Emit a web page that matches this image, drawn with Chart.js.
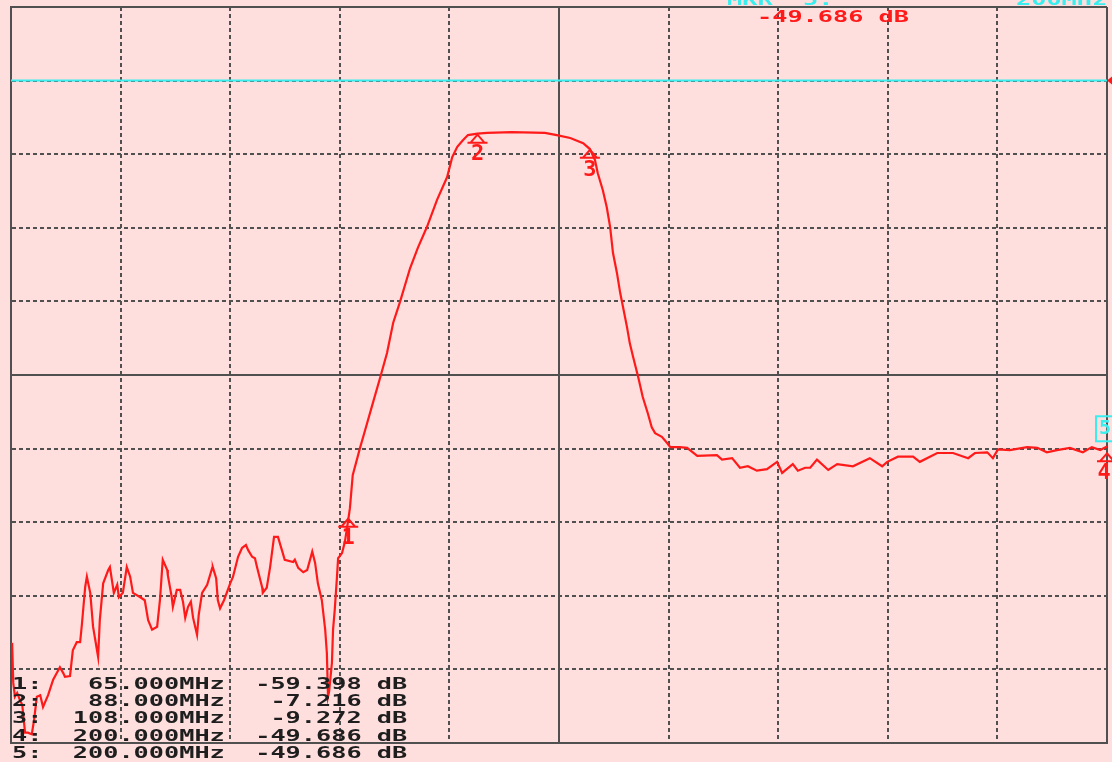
<!DOCTYPE html>
<html>
<head>
<meta charset="utf-8">
<script src="https://cdn.jsdelivr.net/npm/chart.js@4.4.0/dist/chart.umd.min.js"></script>
<style>
  html, body { margin: 0; padding: 0; background: #ffdede; overflow: hidden; }
  #wrap { width: 1112px; height: 762px; }
</style>
</head>
<body>
<div id="wrap"><canvas id="sa"></canvas></div>
<script>
// sweep settings
const startMHz = 5;
const stopMHz = 200;
const topDb = 10;
const bottomDb = -90;
const displayLineDb = 0;

// trace
const freqMHz = [
  5.2, 5.4, 5.7, 6.1, 6.6, 7.0, 7.5, 8.0, 8.7, 9.1, 9.6, 10.2, 10.7, 11.6, 12.5, 13.7, 14.3, 14.6, 15.5, 16.0,
  16.7, 17.3, 17.6, 18.2, 18.5, 19.1, 19.6, 20.3, 20.5, 20.8, 21.4, 22.3, 22.6, 23.3, 23.9, 24.2, 24.9, 25.6, 26.2, 26.7,
  28.0, 28.8, 29.4, 30.1, 31.0, 31.5, 32.0, 32.8, 32.9, 33.6, 33.8, 34.5, 35.1, 35.6, 36.0, 36.5, 37.0, 37.4, 38.1, 38.4,
  39.0, 39.9, 40.8, 40.9, 41.5, 41.8, 42.2, 42.9, 44.0, 44.5, 45.4, 46.1, 46.8, 47.2, 47.9, 48.4, 48.8, 49.7, 49.8, 50.5,
  51.1, 51.8, 52.5, 53.2, 53.7, 55.2, 55.5, 56.1, 57.0, 57.7, 58.6, 59.1, 59.6, 60.3, 60.9, 61.2, 61.4, 61.6, 62.1, 62.3,
  62.6, 63.0, 63.2, 63.9, 64.4, 65.0, 65.3, 65.8, 67.1, 68.0, 69.2, 70.7, 71.9, 73.0, 74.2, 76.0, 77.4, 79.0, 80.8, 82.6,
  83.5, 84.4, 85.4, 86.3, 88.0, 89.7, 94.1, 100.0, 102.1, 104.5, 106.8, 108.0, 108.9, 109.4, 110.3, 111.0, 111.6, 112.1, 112.8, 113.4,
  113.9, 114.6, 115.1, 115.7, 116.6, 117.4, 118.3, 119.0, 119.6, 120.8, 121.7, 122.3, 124.0, 125.3, 127.1, 130.6, 131.5, 133.3, 134.7, 136.1,
  137.7, 139.5, 141.3, 142.2, 144.1, 145.0, 146.3, 147.2, 148.4, 150.4, 152.0, 154.8, 157.8, 160.0, 160.9, 162.8, 165.5, 166.7, 169.8, 172.6,
  175.3, 176.5, 178.7, 179.7, 180.6, 182.7, 185.8, 187.6, 189.3, 191.1, 193.4, 195.7, 197.3, 198.8, 200.0
];
const levelDb = [
  -76.4, -81.8, -83.7, -83.2, -84.2, -84.8, -88.6, -88.6, -88.8, -86.9, -83.7, -83.5, -85.1, -83.5, -81.4, -79.7, -80.5, -81.0, -80.9, -77.4,
  -76.3, -76.3, -74.0, -68.8, -67.4, -69.6, -74.2, -77.4, -78.3, -73.3, -68.3, -66.5, -66.1, -69.6, -68.5, -70.2, -69.6, -66.1, -67.4, -69.6,
  -70.2, -70.6, -73.3, -74.6, -74.2, -70.6, -65.1, -66.5, -67.2, -70.2, -71.5, -69.2, -69.2, -70.8, -73.0, -71.5, -70.8, -73.0, -75.3, -72.6,
  -69.6, -68.5, -66.2, -66.1, -67.6, -70.6, -71.7, -70.6, -68.3, -67.4, -64.7, -63.5, -63.1, -63.8, -64.7, -64.9, -66.2, -68.9, -69.6, -68.9,
  -66.1, -62.0, -62.0, -63.8, -65.1, -65.4, -65.1, -66.2, -66.8, -66.5, -64.0, -65.5, -68.3, -70.6, -74.6, -77.8, -83.7, -83.0, -79.1, -74.6,
  -71.9, -67.4, -64.9, -64.2, -62.7, -59.7, -58.1, -53.6, -49.9, -47.5, -44.3, -40.3, -37.0, -32.9, -30.1, -25.5, -22.7, -19.9, -16.2, -13.1,
  -10.4, -9.0, -8.1, -7.4, -7.2, -7.1, -7.0, -7.1, -7.4, -7.8, -8.5, -9.3, -10.8, -12.6, -14.9, -17.2, -19.9, -23.4, -26.1, -28.9,
  -30.8, -33.5, -35.7, -37.6, -40.3, -43.0, -45.2, -47.1, -47.9, -48.4, -49.2, -49.8, -49.8, -49.9, -51.0, -50.9, -51.5, -51.3, -52.6, -52.4,
  -53.0, -52.8, -51.8, -53.3, -52.1, -53.0, -52.6, -52.6, -51.5, -52.9, -52.1, -52.4, -51.3, -52.4, -51.8, -51.1, -51.1, -51.8, -50.6, -50.6,
  -51.3, -50.6, -50.5, -51.3, -50.1, -50.2, -49.8, -49.9, -50.5, -50.2, -49.9, -50.5, -49.8, -50.2, -49.7
];

// markers
const markerNames = ['1', '2', '3', '4', '5'];
const markerFreq = [65, 88, 108, 200, 200];
const markerDb = [-59.398, -7.216, -9.272, -49.686, -49.686];

// 10 divisions each way
const xGrid = [5, 24.5, 44, 63.5, 83, 102.5, 122, 141.5, 161, 180.5, 200];
const yGrid = [-90, -80, -70, -60, -50, -40, -30, -20, -10, 0, 10];

const RED = '#ff1a1a';
const CYAN = '#38eeee';
const GRID = '#505050';

// stretched monospace text, like the analyzer's screen font
function screenText(ctx, str, x, y, size, cell, color) {
  ctx.save();
  ctx.font = 'bold ' + size + 'px "DejaVu Sans Mono"';
  const w = ctx.measureText('0').width;
  ctx.translate(x, y);
  ctx.scale(cell / w, 1);
  ctx.fillStyle = color;
  ctx.textBaseline = 'alphabetic';
  ctx.fillText(str, 0, 0);
  ctx.restore();
}

const background = {
  id: 'background',
  beforeDraw(chart) {
    const ctx = chart.ctx;
    ctx.save();
    ctx.fillStyle = '#ffdede';
    ctx.fillRect(0, 0, chart.width, chart.height);
    ctx.restore();
  }
};

const overlay = {
  id: 'overlay',
  afterDraw(chart) {
    const { ctx, scales: { x, y } } = chart;

    // markers
    markerFreq.forEach((f, i) => {
      const px = x.getPixelForValue(f);
      const py = y.getPixelForValue(markerDb[i]);
      ctx.save();
      if (i === 4) {
        ctx.strokeStyle = CYAN;
        ctx.lineWidth = 2;
        ctx.strokeRect(px - 11, py - 30, 22, 25);
        ctx.fillStyle = CYAN;
        ctx.font = 'bold 20px "DejaVu Sans Mono"';
        ctx.textAlign = 'center';
        ctx.textBaseline = 'middle';
        ctx.fillText(markerNames[i], px - 2, py - 17);
      } else {
        const ay = py + (i === 3 ? 7 : 1);
        ctx.strokeStyle = RED;
        ctx.lineWidth = 2;
        ctx.beginPath();
        ctx.moveTo(px, ay);
        ctx.lineTo(px - 7, ay + 8);
        ctx.lineTo(px + 7, ay + 8);
        ctx.closePath();
        ctx.moveTo(px - 10, ay + 8);
        ctx.lineTo(px + 10, ay + 8);
        ctx.stroke();
        ctx.fillStyle = RED;
        ctx.font = 'bold 22px "DejaVu Sans Mono"';
        ctx.textAlign = 'center';
        ctx.textBaseline = 'top';
        ctx.fillText(markerNames[i], i === 3 ? px - 3 : px, ay + 9);
      }
      ctx.restore();
    });

    // reference arrow on the right edge
    const ry = y.getPixelForValue(displayLineDb);
    ctx.save();
    ctx.fillStyle = RED;
    ctx.beginPath();
    ctx.moveTo(1107, ry);
    ctx.lineTo(1112, ry - 4);
    ctx.lineTo(1112, ry + 4);
    ctx.closePath();
    ctx.fill();
    ctx.restore();

    // header
    screenText(ctx, 'MKR  ' + markerNames[4] + ':', 727, 5, 16, 15.2, CYAN);
    screenText(ctx, stopMHz + 'MHz', 1016, 5, 16, 15.2, CYAN);
    screenText(ctx, markerDb[4].toFixed(3) + ' dB', 757, 22, 15, 15.2, RED);

    // marker table
    markerFreq.forEach((f, i) => {
      const row = markerNames[i] + ':' + f.toFixed(3).padStart(9) + 'MHz' +
                  markerDb[i].toFixed(3).padStart(9) + ' dB';
      screenText(ctx, row, 12, 689 + i * 17.2, 16, 15.2, '#1e1e1e');
    });
  }
};

const lineStyle = (ctx, n) => (ctx.index === 0 || ctx.index === n - 1);

new Chart(document.getElementById('sa'), {
  type: 'line',
  data: {
    datasets: [
      {
        data: freqMHz.map((f, i) => ({ x: f, y: levelDb[i] })),
        borderColor: RED,
        borderWidth: 2.2,
        pointRadius: 0,
        tension: 0,
        fill: false
      },
      {
        data: [{ x: startMHz, y: displayLineDb }, { x: stopMHz, y: displayLineDb }],
        borderColor: CYAN,
        borderWidth: 2,
        pointRadius: 0,
        fill: false
      }
    ]
  },
  options: {
    responsive: true,
    maintainAspectRatio: false,
    animation: false,
    layout: { padding: { left: 11, right: 5, top: 7, bottom: 19 } },
    plugins: { legend: { display: false }, tooltip: { enabled: false } },
    scales: {
      x: {
        type: 'linear',
        min: startMHz,
        max: stopMHz,
        afterBuildTicks: s => { s.ticks = xGrid.map(v => ({ value: v })); },
        ticks: { display: false },
        grid: {
          drawTicks: false,
          color: GRID,
          lineWidth: 2
        },
        border: {
          color: GRID,
          width: 2,
          dash: c => (lineStyle(c, xGrid.length) || c.index === 5) ? [] : [4, 3]
        }
      },
      y: {
        min: bottomDb,
        max: topDb,
        afterBuildTicks: s => { s.ticks = yGrid.map(v => ({ value: v })); },
        ticks: { display: false },
        grid: {
          drawTicks: false,
          color: GRID,
          lineWidth: 2
        },
        border: {
          color: GRID,
          width: 2,
          dash: c => (lineStyle(c, yGrid.length) || c.index === 5) ? [] : [4, 3]
        }
      }
    }
  },
  plugins: [background, overlay]
});
</script>
</body>
</html>
